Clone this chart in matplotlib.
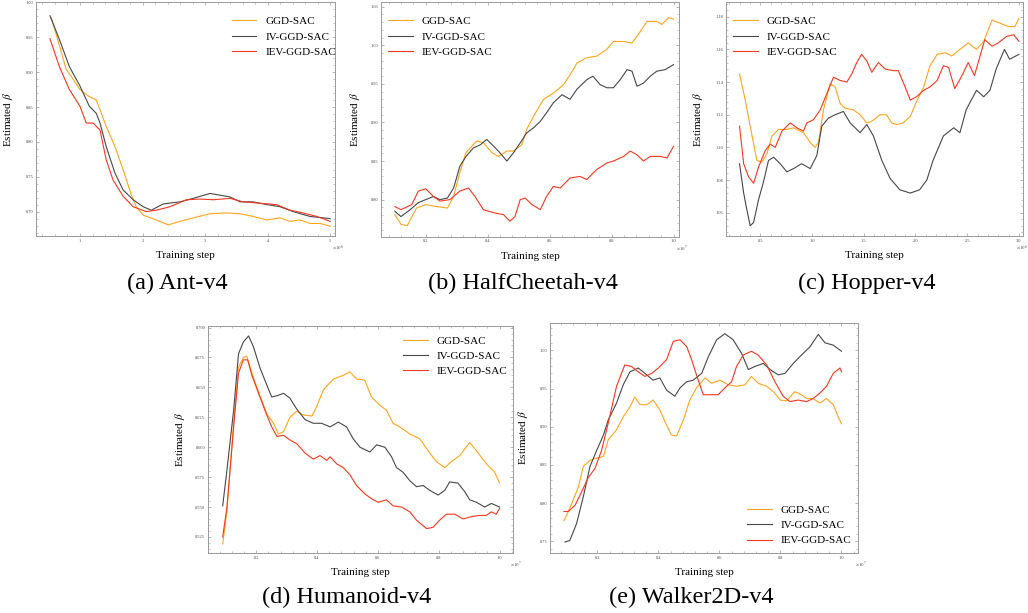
import matplotlib.pyplot as plt
from matplotlib.ticker import AutoMinorLocator, MultipleLocator

plt.rcParams['font.family'] = ['Liberation Serif', 'DejaVu Serif']
plt.rcParams['mathtext.fontset'] = 'stix'

labels = ["GGD-SAC", "IV-GGD-SAC", "IEV-GGD-SAC"]
colors = ["#FFA51E", "#474747", "#F4371F"]

# (a) Ant-v4, x in 1e6 steps
ant_x_ggd = [0.54, 0.60, 0.78, 0.86, 1.0, 1.13, 1.26, 1.32, 1.42, 1.56, 1.69, 1.82, 1.90, 2.01, 2.22, 2.41,
             2.60, 2.81, 3.08, 3.34, 3.56, 3.77, 3.99, 4.20, 4.36, 4.52, 4.68, 4.84, 5.0]
ant_y_ggd = [0.978, 0.960, 0.904, 0.894, 0.875, 0.866, 0.860, 0.846, 0.822, 0.793, 0.760, 0.724, 0.707, 0.695,
             0.688, 0.681, 0.686, 0.691, 0.697, 0.698, 0.697, 0.693, 0.688, 0.691, 0.686, 0.688, 0.683, 0.683, 0.679]
ant_x_iv = [0.52, 0.67, 0.83, 1.0, 1.15, 1.26, 1.32, 1.42, 1.56, 1.69, 1.85, 2.01, 2.14, 2.33, 2.60, 2.81, 3.08,
            3.40, 3.56, 3.77, 3.99, 4.20, 4.41, 4.68, 5.0]
ant_y_iv = [0.981, 0.947, 0.908, 0.880, 0.851, 0.841, 0.827, 0.793, 0.755, 0.731, 0.717, 0.707, 0.702, 0.711,
            0.714, 0.719, 0.726, 0.721, 0.714, 0.714, 0.710, 0.707, 0.700, 0.693, 0.690]
ant_x_iev = [0.52, 0.67, 0.83, 1.0, 1.10, 1.21, 1.32, 1.42, 1.53, 1.69, 1.85, 2.06, 2.22, 2.44, 2.70, 2.92, 3.13,
             3.40, 3.61, 3.88, 4.14, 4.36, 4.57, 4.79, 5.0]
ant_y_iev = [0.948, 0.908, 0.875, 0.851, 0.827, 0.827, 0.817, 0.774, 0.745, 0.722, 0.707, 0.700, 0.702, 0.707,
             0.717, 0.718, 0.717, 0.719, 0.714, 0.712, 0.710, 0.702, 0.698, 0.693, 0.686]

# (b) HalfCheetah-v4, x in 1e7 steps
hc_x_ggd = [0.10, 0.12, 0.14, 0.17, 0.20, 0.235, 0.27, 0.29, 0.31, 0.33, 0.365, 0.386, 0.413, 0.435, 0.462, 0.483,
            0.51, 0.526, 0.548, 0.58, 0.612, 0.645, 0.677, 0.688, 0.72, 0.752, 0.785, 0.806, 0.839, 0.866, 0.893,
            0.914, 0.946, 0.962, 0.984, 1.0]
hc_y_ggd = [0.7805, 0.768, 0.766, 0.789, 0.7935, 0.791, 0.789, 0.804, 0.835, 0.861, 0.876, 0.874, 0.861, 0.856,
            0.863, 0.863, 0.871, 0.891, 0.908, 0.930, 0.938, 0.949, 0.969, 0.977, 0.984, 0.986, 0.995, 1.005,
            1.005, 1.003, 1.018, 1.031, 1.031, 1.027, 1.036, 1.034]
hc_x_iv = [0.10, 0.12, 0.15, 0.176, 0.20, 0.225, 0.246, 0.27, 0.29, 0.31, 0.33, 0.354, 0.376, 0.397, 0.42, 0.44,
           0.462, 0.483, 0.505, 0.526, 0.548, 0.57, 0.59, 0.612, 0.64, 0.666, 0.688, 0.72, 0.74, 0.763, 0.785,
           0.806, 0.828, 0.85, 0.866, 0.882, 0.903, 0.925, 0.946, 0.973, 1.0]
hc_y_iv = [0.785, 0.778, 0.787, 0.796, 0.800, 0.804, 0.800, 0.802, 0.815, 0.843, 0.856, 0.867, 0.871, 0.878,
           0.869, 0.8605, 0.850, 0.8605, 0.8735, 0.8865, 0.893, 0.9015, 0.9125, 0.9255, 0.936, 0.930, 0.943,
           0.9555, 0.960, 0.949, 0.945, 0.945, 0.9555, 0.9685, 0.9665, 0.947, 0.951, 0.960, 0.9665, 0.9685, 0.975]
hc_x_iev = [0.10, 0.12, 0.155, 0.176, 0.20, 0.225, 0.246, 0.278, 0.31, 0.338, 0.359, 0.386, 0.419, 0.451, 0.472,
            0.488, 0.505, 0.521, 0.543, 0.57, 0.59, 0.612, 0.634, 0.666, 0.698, 0.72, 0.752, 0.785, 0.806, 0.839,
            0.86, 0.882, 0.903, 0.925, 0.957, 0.979, 1.0]
hc_y_iev = [0.791, 0.787, 0.7935, 0.811, 0.814, 0.804, 0.798, 0.800, 0.811, 0.815, 0.804, 0.787, 0.783, 0.7805,
            0.772, 0.778, 0.800, 0.802, 0.7935, 0.787, 0.804, 0.817, 0.815, 0.828, 0.830, 0.826, 0.839, 0.8475,
            0.850, 0.856, 0.863, 0.858, 0.850, 0.856, 0.856, 0.854, 0.869]

# (c) Hopper-v4, x in 1e6 steps
hop_x_ggd = [0.30, 0.355, 0.403, 0.468, 0.516, 0.564, 0.613, 0.677, 0.757, 0.822, 0.918, 0.983, 1.03, 1.063, 1.111,
             1.176, 1.224, 1.272, 1.32, 1.40, 1.465, 1.53, 1.578, 1.658, 1.72, 1.77, 1.82, 1.88, 1.95, 2.01, 2.08,
             2.14, 2.21, 2.29, 2.35, 2.43, 2.51, 2.59, 2.66, 2.74, 2.82, 2.90, 2.96, 3.0]
hop_y_ggd = [1.145, 1.129, 1.113, 1.092, 1.091, 1.096, 1.107, 1.111, 1.111, 1.112, 1.109, 1.103, 1.100, 1.103,
             1.123, 1.139, 1.137, 1.127, 1.124, 1.123, 1.120, 1.115, 1.116, 1.120, 1.120, 1.115, 1.114, 1.115,
             1.119, 1.128, 1.137, 1.150, 1.157, 1.158, 1.156, 1.160, 1.164, 1.160, 1.165, 1.178, 1.176, 1.174,
             1.174, 1.179]
hop_x_iv = [0.30, 0.34, 0.37, 0.403, 0.436, 0.484, 0.532, 0.58, 0.629, 0.693, 0.757, 0.822, 0.90, 0.983, 1.047,
            1.095, 1.16, 1.224, 1.304, 1.369, 1.465, 1.53, 1.594, 1.675, 1.755, 1.85, 1.95, 2.04, 2.11, 2.17, 2.27,
            2.37, 2.43, 2.49, 2.59, 2.66, 2.72, 2.78, 2.86, 2.91, 3.0]
hop_y_iv = [1.090, 1.072, 1.062, 1.052, 1.054, 1.068, 1.079, 1.092, 1.094, 1.090, 1.085, 1.087, 1.090, 1.087,
            1.095, 1.113, 1.118, 1.120, 1.122, 1.115, 1.109, 1.114, 1.107, 1.092, 1.081, 1.074, 1.072, 1.074,
            1.080, 1.092, 1.107, 1.112, 1.109, 1.123, 1.135, 1.131, 1.135, 1.148, 1.160, 1.154, 1.157]
hop_x_iev = [0.30, 0.34, 0.387, 0.436, 0.484, 0.548, 0.597, 0.645, 0.71, 0.79, 0.854, 0.918, 0.95, 1.015, 1.08,
             1.144, 1.208, 1.272, 1.337, 1.385, 1.433, 1.48, 1.53, 1.578, 1.642, 1.707, 1.787, 1.835, 1.90, 1.95,
             2.01, 2.08, 2.14, 2.21, 2.27, 2.32, 2.38, 2.45, 2.51, 2.57, 2.62, 2.67, 2.74, 2.80, 2.88, 2.95, 3.0]
hop_y_iev = [1.113, 1.090, 1.082, 1.078, 1.088, 1.098, 1.102, 1.100, 1.110, 1.115, 1.112, 1.110, 1.115, 1.117,
             1.123, 1.133, 1.143, 1.141, 1.140, 1.145, 1.152, 1.157, 1.153, 1.146, 1.152, 1.148, 1.147, 1.147,
             1.137, 1.129, 1.131, 1.135, 1.137, 1.141, 1.150, 1.149, 1.136, 1.144, 1.152, 1.144, 1.155, 1.166,
             1.162, 1.164, 1.168, 1.169, 1.165]

# (d) Humanoid-v4, x in 1e7 steps
hum_x_ggd = [0.09, 0.104, 0.126, 0.142, 0.158, 0.169, 0.186, 0.208, 0.235, 0.257, 0.273, 0.29, 0.311, 0.333, 0.355,
             0.383, 0.399, 0.421, 0.454, 0.486, 0.508, 0.53, 0.557, 0.579, 0.607, 0.628, 0.65, 0.678, 0.705, 0.738,
             0.765, 0.792, 0.82, 0.842, 0.869, 0.902, 0.924, 0.957, 0.984, 1.0]
hum_y_ggd = [0.519, 0.547, 0.620, 0.667, 0.675, 0.676, 0.662, 0.646, 0.628, 0.620, 0.611, 0.613, 0.625, 0.630,
             0.627, 0.626, 0.634, 0.648, 0.657, 0.660, 0.663, 0.657, 0.656, 0.642, 0.635, 0.631, 0.620, 0.616,
             0.611, 0.607, 0.597, 0.588, 0.583, 0.588, 0.593, 0.604, 0.597, 0.586, 0.579, 0.570]
hum_x_iv = [0.09, 0.104, 0.126, 0.142, 0.158, 0.175, 0.191, 0.213, 0.235, 0.251, 0.268, 0.29, 0.311, 0.333, 0.361,
            0.388, 0.415, 0.443, 0.47, 0.497, 0.519, 0.541, 0.574, 0.596, 0.623, 0.645, 0.661, 0.683, 0.705, 0.727,
            0.749, 0.77, 0.798, 0.82, 0.836, 0.863, 0.885, 0.902, 0.924, 0.951, 0.973, 1.0]
hum_y_iv = [0.551, 0.581, 0.631, 0.678, 0.688, 0.693, 0.684, 0.666, 0.652, 0.642, 0.643, 0.645, 0.641, 0.632,
            0.623, 0.620, 0.620, 0.617, 0.621, 0.617, 0.607, 0.600, 0.596, 0.602, 0.600, 0.592, 0.583, 0.579,
            0.572, 0.567, 0.568, 0.564, 0.560, 0.564, 0.571, 0.570, 0.563, 0.556, 0.554, 0.550, 0.553, 0.550]
hum_x_iev = [0.09, 0.104, 0.126, 0.142, 0.158, 0.172, 0.186, 0.208, 0.23, 0.251, 0.268, 0.29, 0.311, 0.333, 0.361,
             0.388, 0.41, 0.432, 0.443, 0.465, 0.486, 0.508, 0.53, 0.557, 0.579, 0.601, 0.628, 0.65, 0.678, 0.705,
             0.727, 0.76, 0.781, 0.803, 0.825, 0.853, 0.88, 0.907, 0.934, 0.956, 0.973, 0.989, 1.0]
hum_y_iev = [0.525, 0.550, 0.617, 0.662, 0.673, 0.673, 0.660, 0.645, 0.630, 0.617, 0.609, 0.610, 0.606, 0.603,
             0.595, 0.590, 0.593, 0.589, 0.592, 0.586, 0.583, 0.577, 0.568, 0.561, 0.557, 0.554, 0.556, 0.551,
             0.550, 0.546, 0.539, 0.532, 0.533, 0.539, 0.544, 0.544, 0.540, 0.542, 0.543, 0.543, 0.546, 0.544,
             0.549]

# (e) Walker2D-v4, x in 1e7 steps
wk_x_ggd = [0.091, 0.105, 0.121, 0.138, 0.154, 0.176, 0.198, 0.22, 0.236, 0.263, 0.285, 0.307, 0.323, 0.34, 0.362,
            0.383, 0.405, 0.427, 0.443, 0.46, 0.482, 0.503, 0.525, 0.553, 0.574, 0.602, 0.629, 0.656, 0.684, 0.705,
            0.727, 0.755, 0.777, 0.799, 0.82, 0.847, 0.869, 0.886, 0.907, 0.929, 0.951, 0.973, 0.989, 1.0]
wk_y_ggd = [0.777, 0.789, 0.804, 0.821, 0.848, 0.856, 0.859, 0.861, 0.883, 0.896, 0.913, 0.926, 0.939, 0.929,
            0.929, 0.935, 0.922, 0.902, 0.889, 0.888, 0.909, 0.935, 0.951, 0.964, 0.957, 0.961, 0.955, 0.953,
            0.955, 0.966, 0.957, 0.953, 0.946, 0.935, 0.934, 0.946, 0.942, 0.937, 0.937, 0.931, 0.937, 0.929,
            0.913, 0.904]
wk_x_iv = [0.094, 0.11, 0.132, 0.154, 0.176, 0.198, 0.22, 0.236, 0.263, 0.285, 0.307, 0.334, 0.356, 0.383, 0.405,
           0.427, 0.454, 0.471, 0.493, 0.514, 0.542, 0.564, 0.591, 0.618, 0.645, 0.673, 0.695, 0.716, 0.744, 0.766,
           0.793, 0.815, 0.842, 0.864, 0.897, 0.924, 0.946, 0.973, 1.0]
wk_y_iv = [0.749, 0.751, 0.773, 0.808, 0.848, 0.869, 0.889, 0.909, 0.931, 0.955, 0.972, 0.977, 0.970, 0.961,
           0.964, 0.948, 0.940, 0.951, 0.959, 0.961, 0.970, 0.992, 1.014, 1.022, 1.014, 0.996, 0.975, 0.979,
           0.983, 0.975, 0.968, 0.970, 0.983, 0.992, 1.005, 1.021, 1.010, 1.007, 0.999]
wk_x_iev = [0.091, 0.105, 0.127, 0.149, 0.171, 0.192, 0.214, 0.236, 0.263, 0.29, 0.312, 0.334, 0.356, 0.378, 0.40,
            0.427, 0.449, 0.471, 0.493, 0.509, 0.525, 0.547, 0.574, 0.596, 0.618, 0.64, 0.656, 0.678, 0.705, 0.727,
            0.755, 0.782, 0.809, 0.831, 0.858, 0.886, 0.907, 0.929, 0.951, 0.973, 0.995, 1.0]
wk_y_iev = [0.789, 0.789, 0.797, 0.815, 0.834, 0.845, 0.869, 0.905, 0.953, 0.981, 0.979, 0.972, 0.966, 0.970,
            0.977, 0.988, 1.012, 1.014, 1.005, 0.988, 0.968, 0.942, 0.942, 0.942, 0.951, 0.959, 0.979, 0.994,
            0.999, 0.994, 0.981, 0.959, 0.940, 0.933, 0.935, 0.933, 0.937, 0.944, 0.953, 0.970, 0.977, 0.972]

panels = [
    dict(rect=[0.035, 0.615, 0.291, 0.381], series=[(ant_x_ggd, ant_y_ggd), (ant_x_iv, ant_y_iv), (ant_x_iev, ant_y_iev)],
         xlim=(0.296, 5.08), ylim=(0.665, 1.0), xmaj=1, ymaj=0.05, yfmt="%.2f", off=r"$\times10^{6}$", offx=1.01,
         leg=dict(loc="upper left", bbox_to_anchor=(0.655, 0.94)), ylab=-0.07, caption="(a) Ant-v4", cap=(0.1727, 0.538)),
    dict(rect=[0.3706, 0.614, 0.290, 0.382], series=[(hc_x_ggd, hc_y_ggd), (hc_x_iv, hc_y_iv), (hc_x_iev, hc_y_iev)],
         xlim=(0.0555, 1.018), ylim=(0.752, 1.0556), xmaj=0.2, ymaj=0.05, yfmt="%.2f", off=r"$\times10^{7}$", offx=1.01,
         leg=dict(loc="upper left", bbox_to_anchor=(0.025, 0.94)), ylab=-0.065, caption="(b) HalfCheetah-v4", cap=(0.5083, 0.538)),
    dict(rect=[0.7062, 0.615, 0.289, 0.381], series=[(hop_x_ggd, hop_y_ggd), (hop_x_iv, hop_y_iv), (hop_x_iev, hop_y_iev)],
         xlim=(0.169, 3.04), ylim=(1.0457, 1.1888), xmaj=0.5, ymaj=0.02, yfmt="%.2f", off=r"$\times10^{6}$", offx=0.995,
         leg=dict(loc="upper left", bbox_to_anchor=(0.025, 0.94)), ylab=-0.071, caption="(c) Hopper-v4", cap=(0.8434, 0.538)),
    dict(rect=[0.2023, 0.0979, 0.2967, 0.3703], series=[(hum_x_ggd, hum_y_ggd), (hum_x_iv, hum_y_iv), (hum_x_iev, hum_y_iev)],
         xlim=(0.0416, 1.044), ylim=(0.5116, 0.7013), xmaj=0.2, ymaj=0.025, yfmt="%.3f", off=r"$\times10^{7}$", offx=1.01,
         leg=dict(loc="upper left", bbox_to_anchor=(0.64, 0.957)), ylab=-0.07, caption="(d) Humanoid-v4", cap=(0.337, 0.026)),
    dict(rect=[0.535, 0.0979, 0.2996, 0.3752], series=[(wk_x_ggd, wk_y_ggd), (wk_x_iv, wk_y_iv), (wk_x_iev, wk_y_iev)],
         xlim=(0.045, 1.054), ylim=(0.7346, 1.036), xmaj=0.2, ymaj=0.05, yfmt="%.2f", off=r"$\times10^{7}$", offx=1.01,
         leg=dict(loc="lower left", bbox_to_anchor=(0.64, 0.033)), ylab=-0.065, caption="(e) Walker2D-v4", cap=(0.6727, 0.026)),
]

fig = plt.figure(figsize=(10.28, 6.13), dpi=100)

for p in panels:
    ax = fig.add_axes(p["rect"])
    for (xs, ys), lab, c in zip(p["series"], labels, colors):
        ax.plot(xs, ys, color=c, lw=0.8, label=lab)
    ax.set_xlim(*p["xlim"])
    ax.set_ylim(*p["ylim"])
    ax.xaxis.set_major_locator(MultipleLocator(p["xmaj"]))
    ax.yaxis.set_major_locator(MultipleLocator(p["ymaj"]))
    ax.xaxis.set_minor_locator(AutoMinorLocator(5))
    ax.yaxis.set_minor_locator(AutoMinorLocator(5))
    ax.yaxis.set_major_formatter(plt.FormatStrFormatter(p["yfmt"]))
    ax.xaxis.set_major_formatter(plt.FormatStrFormatter("%g" if p["xmaj"] == 1 else "%.1f"))
    ax.tick_params(which="both", direction="in", top=True, right=True, color="#999999", labelsize=3.2,
                   labelcolor="#444444", pad=2)
    ax.tick_params(which="major", length=2.5, width=0.5)
    ax.tick_params(which="minor", length=1.3, width=0.4)
    for s in ax.spines.values():
        s.set_color("#999999")
        s.set_linewidth(0.7)
    ax.set_ylabel(r"Estimated $\beta$", fontsize=8)
    ax.yaxis.set_label_coords(p["ylab"], 0.5)
    ax.set_xlabel("Training step", fontsize=8)
    ax.xaxis.set_label_coords(0.5, -0.065)
    ax.text(p["offx"], -0.05, p["off"], transform=ax.transAxes, fontsize=3.5, color="#444444", ha="center", va="center")
    ax.legend(frameon=False, fontsize=8, handlelength=2.2, handletextpad=0.8, labelspacing=0.5,
              borderpad=0, borderaxespad=0, **p["leg"])
    fig.text(p["cap"][0], p["cap"][1], p["caption"], fontsize=17.5, ha="center", va="center")

fig.savefig("out.png", dpi=100)
